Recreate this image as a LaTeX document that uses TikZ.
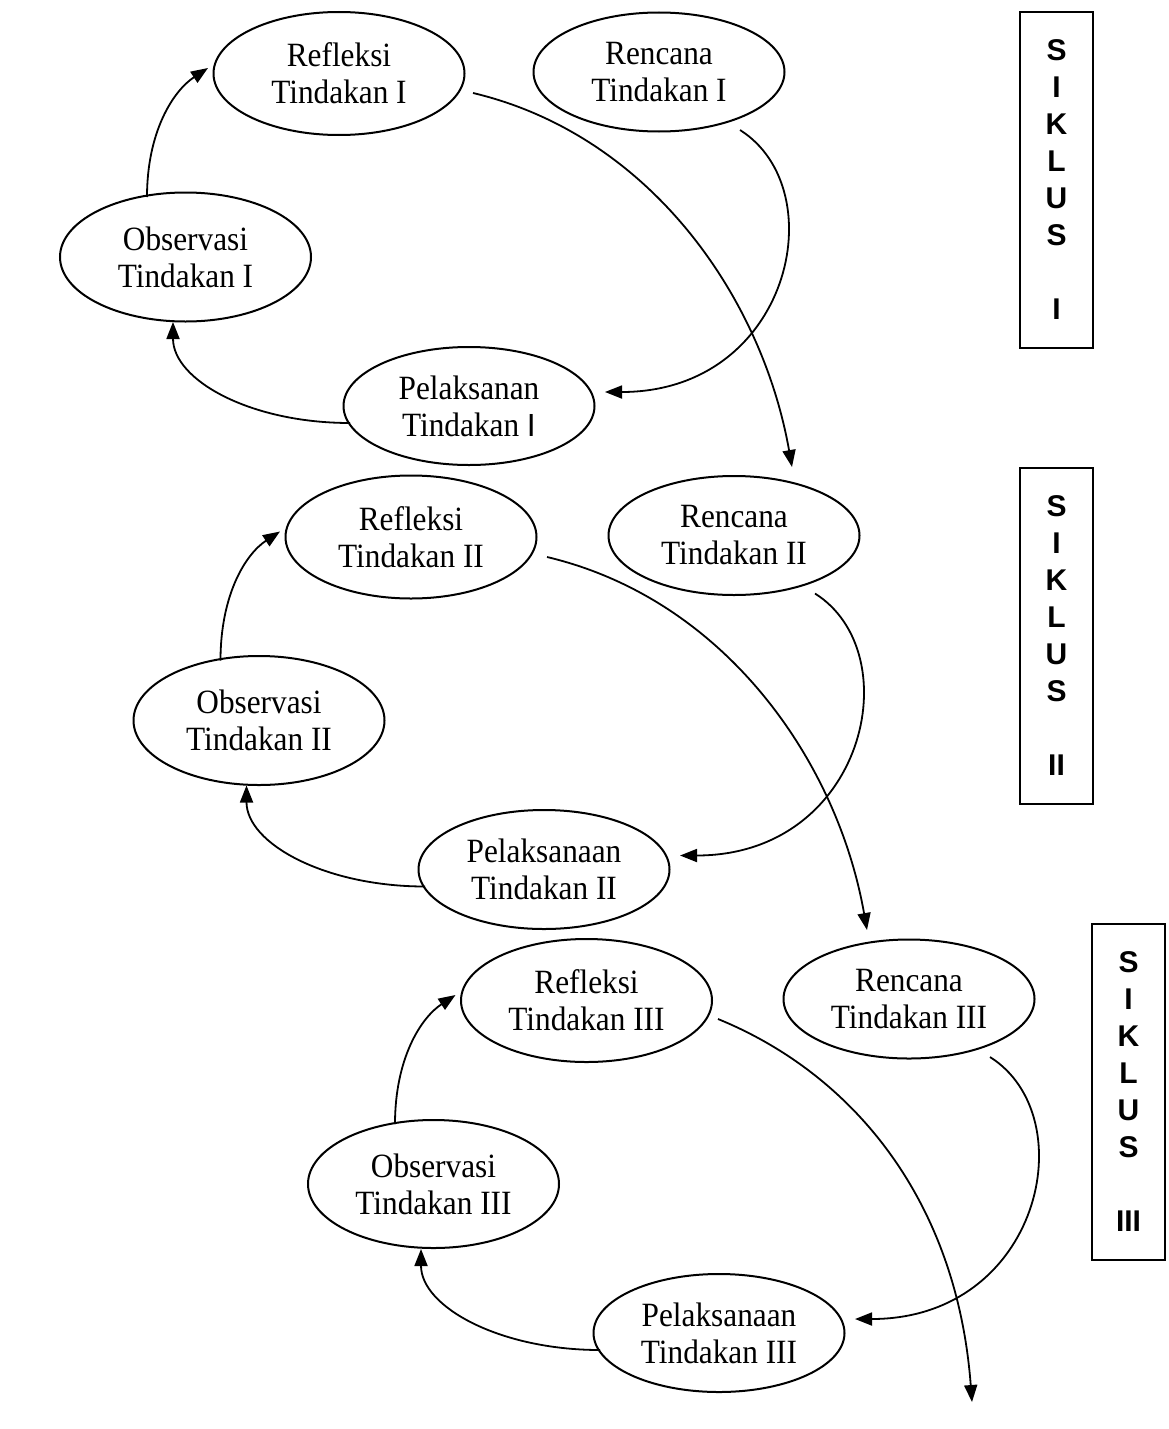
\documentclass[tikz,border=0pt]{standalone}
\usepackage{fontspec}
\setmainfont{Liberation Serif}[FakeStretch=0.92]
\setsansfont{Liberation Sans}
\usetikzlibrary{shapes.geometric,arrows.meta,calc}
\begin{document}
\begin{tikzpicture}[x=1pt,y=-1pt,
  stage/.style={ellipse,draw,line width=2pt,inner sep=0pt,align=center,
    minimum width=251pt,font=\fontsize{34}{37}\selectfont},
  siklus/.style={rectangle,draw,line width=2pt,inner sep=0pt,align=center,
    minimum width=73pt,minimum height=336pt,
    font=\fontsize{30}{37}\selectfont\sffamily\bfseries},
  arr/.style={line width=1.8pt,-{Triangle[length=17pt,width=13pt]}}]
\useasboundingbox (0,0) rectangle (1168,1429);
\fill[white] (0,0) rectangle (1168,1429);

% Cycle I
\node[stage,minimum height=123pt] (ref1) at (339,73.5) {Refleksi\\Tindakan I};
\node[stage,minimum height=119pt] (ren1) at (659,72) {Rencana\\Tindakan I};
\node[stage,minimum height=129pt] (obs1) at (185.5,257) {Observasi\\Tindakan I};
\node[stage,minimum height=118pt] (pel1) at (469,406) {Pelaksanan\\Tindakan {\sffamily\fontsize{32}{37}\selectfont I}};

% Cycle II
\node[stage,minimum height=123pt] (ref2) at (411,537) {Refleksi\\Tindakan II};
\node[stage,minimum height=119pt] (ren2) at (734,535.5) {Rencana\\Tindakan II};
\node[stage,minimum height=129pt] (obs2) at (259,720.5) {Observasi\\Tindakan II};
\node[stage,minimum height=119pt] (pel2) at (544,869.5) {Pelaksanaan\\Tindakan II};

% Cycle III
\node[stage,minimum height=123pt] (ref3) at (586.5,1000.5) {Refleksi\\Tindakan III};
\node[stage,minimum height=119pt] (ren3) at (909,999) {Rencana\\Tindakan III};
\node[stage,minimum height=128pt] (obs3) at (433.5,1184) {Observasi\\Tindakan III};
\node[stage,minimum height=118pt] (pel3) at (719,1333) {Pelaksanaan\\Tindakan III};

% Siklus boxes
\node[siklus] (s1) at (1056.5,180) {S\\I\\K\\L\\U\\S\\[37pt]I};
\node[siklus] (s2) at (1056.5,635.5) {S\\I\\K\\L\\U\\S\\[37pt]II};
\node[siklus] (s3) at (1128.5,1092) {S\\I\\K\\L\\U\\S\\[37pt]III};

\coordinate (out) at (972,1402);

% Connectors
\draw[arr] ([shift={(134,19.5)}]ref1.center) .. controls +(177,42) and +(-30,-170) .. ([shift={(58,-68.5)}]ren2.center);
\draw[arr] ([shift={(136,20)}]ref2.center) .. controls +(177,42) and +(-30,-170) .. ([shift={(-42,-69)}]ren3.center);
\foreach \c in {1,2,3}{
  \draw[arr] ([shift={(81,58)}]ren\c.center) .. controls +(95,60) and +(185,0) .. ([shift={(136,-14)}]pel\c.center);
  \draw[arr] ([shift={(-119,17)}]pel\c.center) .. controls +(-100,0) and +(0,58) .. ([shift={(-12.5,65)}]obs\c.center);
  \draw[arr] ([shift={(-38.5,-60)}]obs\c.center) .. controls +(0,-65) and +(-35,23) .. ([shift={(-131,-5.5)}]ref\c.center);
}
\draw[arr] ([shift={(131.5,18.5)}]ref3.center) .. controls +(137,56) and +(-15,-200) .. (out);
\end{tikzpicture}
\end{document}
